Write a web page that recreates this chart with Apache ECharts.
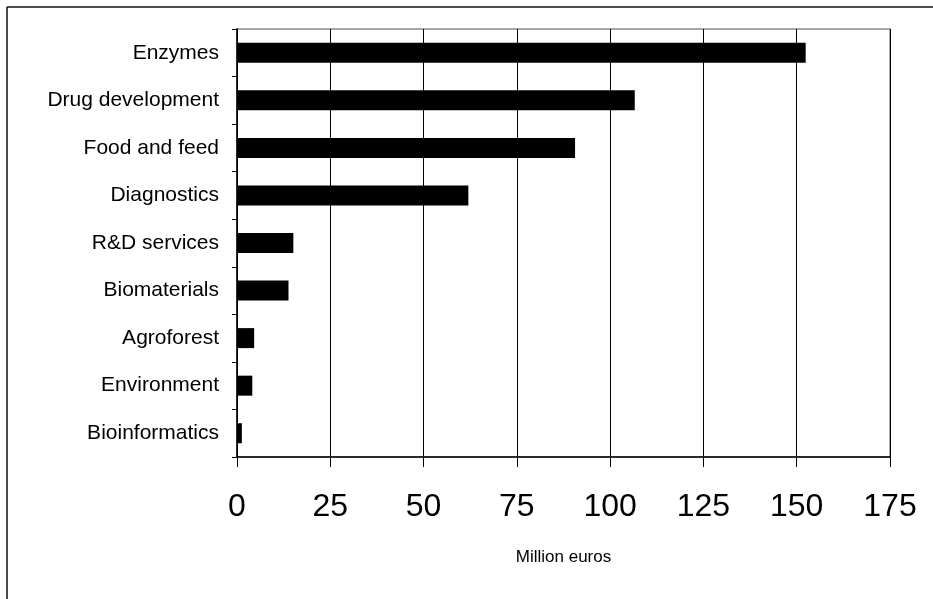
<!DOCTYPE html>
<html>
<head>
<meta charset="utf-8">
<script src="https://cdn.jsdelivr.net/npm/echarts@6/dist/echarts.min.js"></script>
<style>
html,body{margin:0;padding:0;background:#fff;}
#c{width:933px;height:599px;}
</style>
</head>
<body>
<div id="c"></div>
<script>
var categories = ["Enzymes","Drug development","Food and feed","Diagnostics","R&D services","Biomaterials","Agroforest","Environment","Bioinformatics"];
var values = [152.4, 106.6, 90.6, 62.0, 15.1, 13.8, 4.6, 4.1, 1.3];
var xTicks = [0, 25, 50, 75, 100, 125, 150, 175];
var axisTitle = "Million euros";

var chart = echarts.init(document.getElementById('c'), null, {renderer:'canvas'});
chart.setOption({
  backgroundColor: '#fff',
  animation: false,
  textStyle: {fontFamily: 'Liberation Sans, Arial, sans-serif'},
  graphic: [
    {type:'line', shape:{x1:7, y1:7, x2:933, y2:7}, style:{stroke:'#111', lineWidth:1.5}},
    {type:'line', shape:{x1:7, y1:7, x2:7, y2:599}, style:{stroke:'#111', lineWidth:1.5}}
  ],
  grid: {left:237, right:43, top:29, bottom:142, show:true, borderColor:'#8c8c8c', borderWidth:1.5, backgroundColor:'transparent'},
  xAxis: {
    type:'value', min:xTicks[0], max:xTicks[xTicks.length-1], interval:25,
    name: axisTitle, nameLocation:'middle', nameGap:92,
    nameTextStyle:{fontSize:17, color:'#000', fontFamily:'Liberation Sans, Arial, sans-serif'},
    axisLine:{show:true, lineStyle:{color:'#000', width:1.5}},
    axisTick:{show:true, length:10, lineStyle:{color:'#000', width:1}},
    axisLabel:{fontSize:32, color:'#000', margin:34, fontFamily:'Liberation Sans, Arial, sans-serif'},
    splitLine:{show:true, lineStyle:{color:'#000', width:1}}
  },
  yAxis: {
    type:'category', inverse:true, data:categories,
    axisLine:{show:true, lineStyle:{color:'#000', width:1.5}},
    axisTick:{show:true, length:5, alignWithLabel:false, lineStyle:{color:'#000', width:1}},
    axisLabel:{fontSize:21, color:'#000', margin:18, fontFamily:'Liberation Sans, Arial, sans-serif'},
    splitLine:{show:false}
  },
  series: [{
    type:'bar', data:values, barWidth:20,
    itemStyle:{color:'#000'}
  }]
});
</script>
</body>
</html>
